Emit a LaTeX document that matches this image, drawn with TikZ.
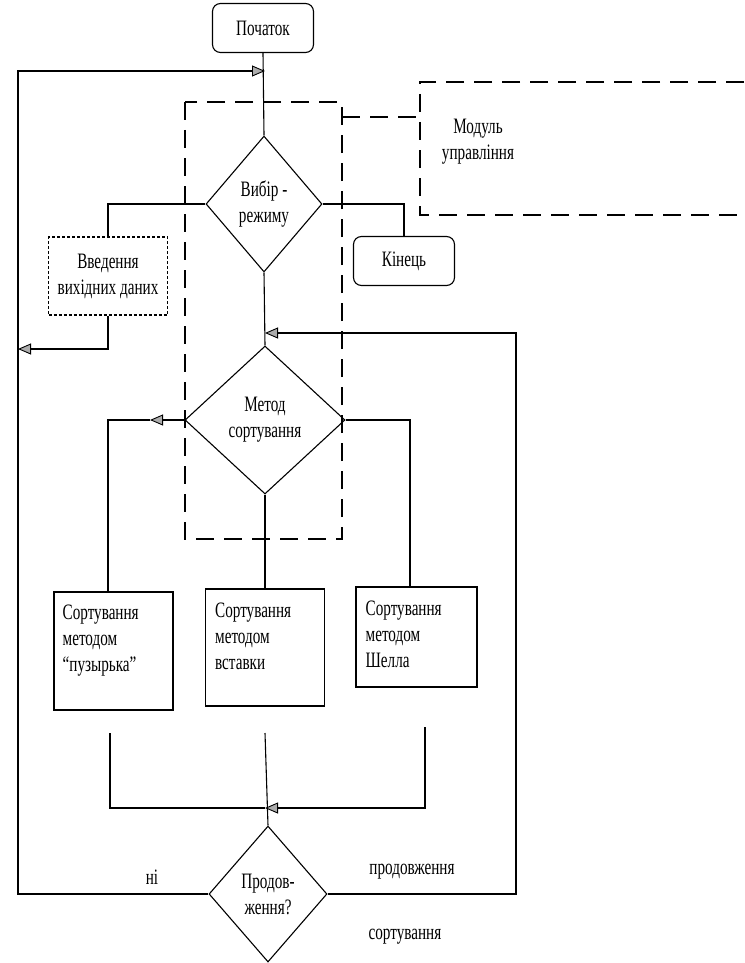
\documentclass[tikz,border=0pt]{standalone}
\usepackage{fontspec}
\setmainfont[FakeStretch=0.69]{Liberation Serif}
\usetikzlibrary{shapes.geometric,arrows.meta}
\begin{document}
\begin{tikzpicture}[x=1pt,y=-1pt,
  every node/.style={font=\fontsize{22}{26}\selectfont},
  ln/.style={line width=1.1pt},
  tipped/.style={-{Triangle[length=13pt,width=11pt,fill=gray!65,line width=0.9pt]}},
  term/.style={draw, line width=1.1pt, rounded corners=8pt, minimum width=101pt, minimum height=49pt, inner sep=0pt},
  dia/.style={draw, diamond, line width=1.1pt, inner sep=0pt, align=center},
  proc/.style={draw, line width=1.1pt, inner sep=0pt},
  inbox/.style={draw, line width=1.1pt, dash pattern=on 3pt off 2pt, inner sep=0pt, align=center},
  txt/.style={inner sep=0pt, align=left},
  dsh/.style={line width=1.3pt, dash pattern=on 18pt off 10pt}
]
\useasboundingbox (0,0) rectangle (744,963);

% nodes
\node[term] (start) at (263,28) {Початок};
\node[dia, minimum width=116pt, minimum height=136pt] (vyb) at (264,204) {Вибір -\\режиму};
\node[inbox, minimum width=119pt, minimum height=78pt] (vved) at (108,276) {Введення\\вихідних даних};
\node[term] (kin) at (404,261) {Кінець};
\node[dia, minimum width=160pt, minimum height=148pt] (met) at (265,420) {Метод\\сортування};

\node[proc, minimum width=119pt, minimum height=118pt] (b1) at (113.5,651) {};
\node[proc, minimum width=119pt, minimum height=117pt] (b2) at (265,647.5) {};
\node[proc, minimum width=121pt, minimum height=100pt] (b3) at (416.5,637) {};
\node[txt, anchor=north west] (t1) at ([xshift=9pt,yshift=-13pt]b1.north west) {Сортування\\методом\\“пузырька”};
\node[txt, anchor=north west] (t2) at ([xshift=10pt,yshift=-14pt]b2.north west) {Сортування\\методом\\вставки};
\node[txt, anchor=north west] (t3) at ([xshift=10pt,yshift=-14pt]b3.north west) {Сортування\\методом\\Шелла};

\node[dia, minimum width=118pt, minimum height=136pt] (prod) at (268,894) {Продов-\\ження?};

\node[align=center] (modtxt) at (478,142) {Модуль\\управління};
\node (ni) at (152,877) {ні};
\node (prodlbl) at (412,872) {продовження};
\node (sortlbl) at (405,937) {сортування};

% dashed module outline
\draw[dsh] (185,102) rectangle (342,539);
\draw[dsh] (342,117) -- (420,117);
\draw[dsh] (744,82) -- (420,82) -- (420,215) -- (744,215);

% coordinates
\coordinate (jt) at (265,71);
\coordinate (lt) at (18,71);
\coordinate (lv) at (18,349);
\coordinate (jr) at (265,333);
\coordinate (rc) at (516,333);
\coordinate (ma) at (150,420);
\coordinate (b1t) at (108,592);
\coordinate (b3t) at (410,587);
\coordinate (s1) at (110,733);
\coordinate (s2) at (265,733);
\coordinate (s3) at (425,727);
\coordinate (jb) at (265,808);

% connectors
\draw[ln] (start.south) -- (vyb.north);
\draw[ln] (vyb.west) -| (vved.north);
\draw[ln] (vyb.east) -| (kin.north);
\draw[ln] (vyb.south) -- (met.north);
\draw[ln,tipped] (vved.south) |- (lv);
\draw[ln,tipped] (met.west) -- (ma);
\draw[ln] (ma) -| (b1t);
\draw[ln] (met.east) -| (b3t);
\draw[ln] (met.south) -- (b2.north);
\draw[ln] (s1) |- (jb);
\draw[ln,tipped] (s3) |- (jb);
\draw[ln] (s2) -- (prod.north);
\draw[ln,tipped] (prod.west) -| (lt) -- (jt);
\draw[ln,tipped] (prod.east) -| (rc) -- (jr);
\end{tikzpicture}
\end{document}
